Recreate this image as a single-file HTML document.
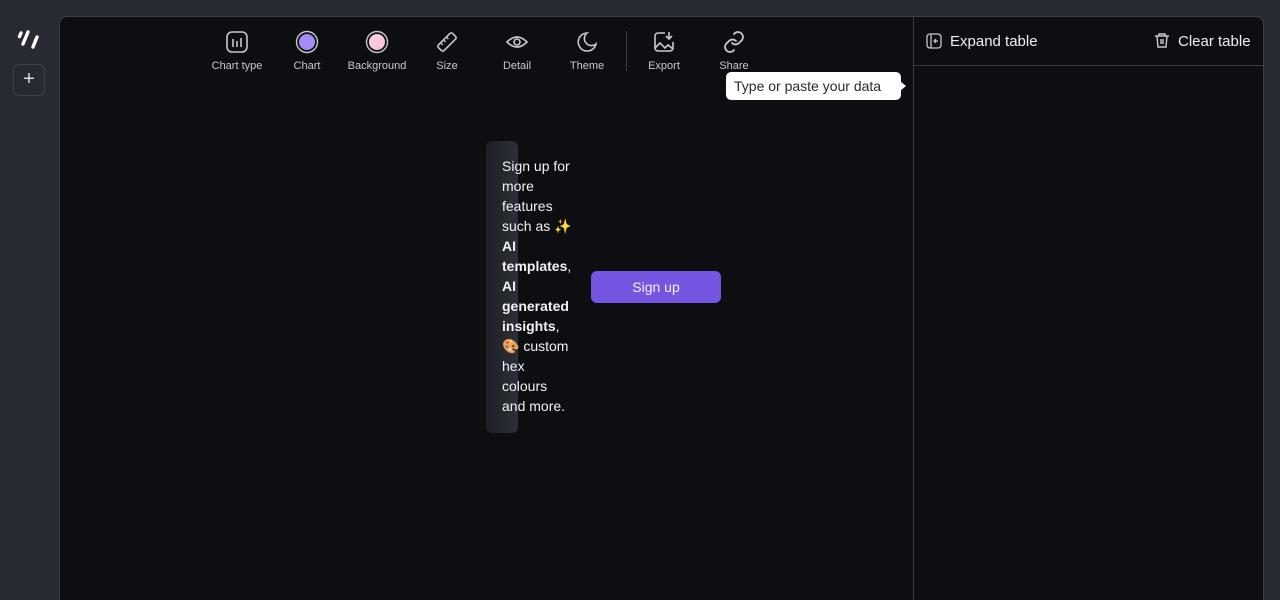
<!DOCTYPE html>
<html><head><style>
*{box-sizing:border-box;margin:0;padding:0}
html,body{width:1280px;height:600px;overflow:hidden}
body{background:#272a33;font-family:"Liberation Sans",sans-serif;position:relative}
.main{position:absolute;left:59px;top:16px;width:1205px;height:600px;background:#0d0e12;border:1px solid #3b3e48;border-radius:8px}
.div{position:absolute;left:913px;top:17px;width:1px;height:583px;background:#3b3e48}
.hline{position:absolute;left:914px;top:65px;width:349px;height:1px;background:#3b3e48}
.tool{position:absolute;top:30px;width:80px;text-align:center;color:#c8c9ce;font-size:11px}
.tool svg{display:block;margin:0 auto 6px}
.t{position:absolute;color:#f0f0f2;font-size:15px}
</style></head><body>
<svg style="position:absolute;left:17px;top:29px" width="24" height="22" viewBox="0 0 24 22"><g stroke="#fff" stroke-width="3.4" stroke-linecap="round"><line x1="4" y1="4" x2="2.5" y2="7.5"/><line x1="11" y1="3" x2="6" y2="15"/><line x1="20" y1="8" x2="16" y2="18"/></g></svg>
<div style="position:absolute;left:13px;top:64px;width:32px;height:32px;border:1px solid #3e414b;border-radius:6px;color:#ddd;font-size:20px;text-align:center;line-height:29px">+</div>
<div class="main"></div>
<div class="div"></div><div class="hline"></div>
<div class="tool" style="left:197px"><svg width="24" height="24"><rect x="2" y="2" width="20" height="20" rx="5" fill="none" stroke="#c8c9ce" stroke-width="1.6"/><g stroke="#c8c9ce" stroke-width="1.6"><line x1="8" y1="9" x2="8" y2="17"/><line x1="12" y1="11" x2="12" y2="17"/><line x1="16" y1="8" x2="16" y2="17"/></g></svg>Chart type</div>
<div class="tool" style="left:267px"><svg width="24" height="24"><circle cx="12" cy="12" r="10.5" fill="none" stroke="#c8c9ce" stroke-width="1.4"/><circle cx="12" cy="12" r="8" fill="#a48cf7"/></svg>Chart</div>
<div class="tool" style="left:337px"><svg width="24" height="24"><defs><linearGradient id="g" x1="0" y1="0" x2="1" y2="1"><stop offset="0" stop-color="#f7d3e6"/><stop offset="1" stop-color="#fcbfd9"/></linearGradient></defs><circle cx="12" cy="12" r="10.5" fill="none" stroke="#c8c9ce" stroke-width="1.4"/><circle cx="12" cy="12" r="8" fill="url(#g)"/></svg>Background</div>
<div class="tool" style="left:407px"><svg width="24" height="24"><g transform="rotate(-45 12 12)"><rect x="2" y="8" width="20" height="8" rx="2" fill="none" stroke="#c8c9ce" stroke-width="1.6"/><g stroke="#c8c9ce" stroke-width="1.4"><line x1="7" y1="8" x2="7" y2="11"/><line x1="11" y1="8" x2="11" y2="11"/><line x1="15" y1="8" x2="15" y2="11"/></g></g></svg>Size</div>
<div class="tool" style="left:477px"><svg width="24" height="24"><path d="M2 12Q12 2 22 12Q12 22 2 12Z" fill="none" stroke="#c8c9ce" stroke-width="1.6"/><circle cx="12" cy="12" r="3" fill="none" stroke="#c8c9ce" stroke-width="1.6"/></svg>Detail</div>
<div class="tool" style="left:547px"><svg width="24" height="24"><path d="M12 3A9 9 0 1 0 21 14A7 7 0 0 1 12 3Z" fill="none" stroke="#c8c9ce" stroke-width="1.6"/></svg>Theme</div>
<div style="position:absolute;left:626px;top:31px;width:1px;height:40px;background:#3b3e48"></div>
<div class="tool" style="left:624px"><svg width="24" height="24"><path d="M13 3H6a3 3 0 0 0-3 3v12a3 3 0 0 0 3 3h12a3 3 0 0 0 3-3v-6" fill="none" stroke="#c8c9ce" stroke-width="1.6"/><path d="M3 18l5-5 5 5 3-3 5 4M17 2v7M14 6l3 3 3-3" fill="none" stroke="#c8c9ce" stroke-width="1.6"/></svg>Export</div>
<div class="tool" style="left:694px"><svg width="24" height="24"><g fill="none" stroke="#c8c9ce" stroke-width="1.8" stroke-linecap="round"><path d="M10 13a5 5 0 0 0 7 0l3-3a5 5 0 0 0-7-7l-1 1"/><path d="M14 11a5 5 0 0 0-7 0l-3 3a5 5 0 0 0 7 7l1-1"/></g></svg>Share</div>
<div style="position:absolute;left:726px;top:72px;width:175px;height:28px;background:#fff;border-radius:5px;color:#2a2a2e;font-size:14px;line-height:28px;padding-left:8px">Type or paste your data</div>
<div style="position:absolute;left:900px;top:81px;width:0;height:0;border-top:5px solid transparent;border-bottom:5px solid transparent;border-left:6px solid #fff"></div>
<svg style="position:absolute;left:926px;top:33px" width="16" height="16"><rect x="1" y="1" width="14" height="14" rx="3" fill="none" stroke="#c8c9ce" stroke-width="1.3"/><line x1="5" y1="1" x2="5" y2="15" stroke="#c8c9ce" stroke-width="1.3"/><path d="M12 8H8M10 6L8 8L10 10" fill="none" stroke="#c8c9ce" stroke-width="1.2"/></svg>
<div class="t" style="left:950px;top:33px">Expand table</div>
<svg style="position:absolute;left:1154px;top:32px" width="16" height="17"><g fill="none" stroke="#c8c9ce" stroke-width="1.4"><path d="M1 4H15M5 4V2H11V4M3 4L4 15H12L13 4M7 7V12M9 7V12"/></g></svg>
<div class="t" style="left:1178px;top:33px">Clear table</div>
<div style="position:absolute;left:486px;top:141px;width:32px;height:292px;border-radius:6px;background:linear-gradient(90deg,#1e2026,#2c2f37)"></div>
<div style="position:absolute;left:502px;top:156px;width:120px;color:#f2f2f4;font-size:14px;line-height:20px;white-space:nowrap">Sign up for<br>more<br>features<br>such as ✨<br><b>AI</b><br><b>templates</b>,<br><b>AI</b><br><b>generated</b><br><b>insights</b>,<br>🎨 custom<br>hex<br>colours<br>and more.</div>
<div style="position:absolute;left:591px;top:271px;width:130px;height:32px;background:#7655e3;border-radius:6px;color:#f4f0ff;font-size:14px;text-align:center;line-height:32px">Sign up</div>
</body></html>
